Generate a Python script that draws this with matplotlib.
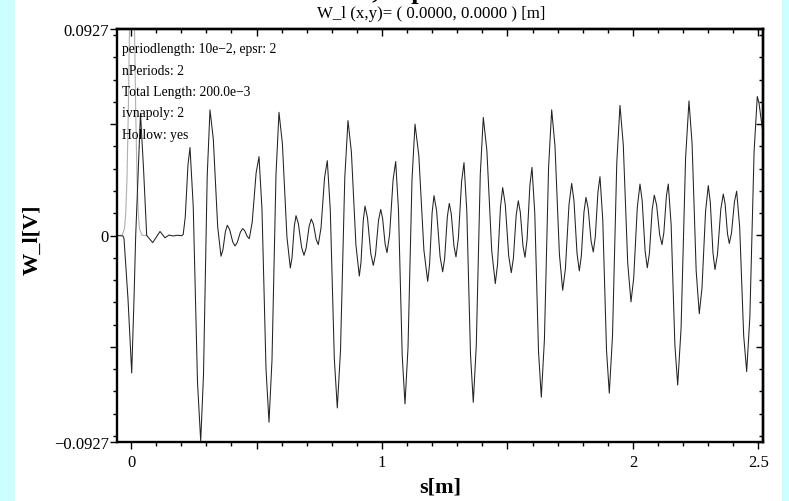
import matplotlib
matplotlib.use("Agg")
import matplotlib.pyplot as plt
import numpy as np
from matplotlib.ticker import MultipleLocator, FixedLocator

#============================================= date ================================================================
# curba principala W_l(s): extreme + cate doua puncte de forma intre ele (citite/estimate)
s_wake = [-0.0558, -0.0319, -0.0279, -0.0120, 0.0028, 0.0120, 0.0187, 0.0378, 0.0498, 0.0625,
          0.0865, 0.1155, 0.1355, 0.1514, 0.1673, 0.1833, 0.2020, 0.2080, 0.2161, 0.2270,
          0.2351, 0.2479, 0.2649, 0.2777, 0.2888, 0.3036, 0.3147, 0.3279, 0.3454,
          0.3586, 0.3661, 0.3762, 0.3837, 0.3929, 0.4051, 0.4143, 0.4235, 0.4358,
          0.4450, 0.4529, 0.4634, 0.4713, 0.4829, 0.4984, 0.5100, 0.5219, 0.5379,
          0.5498, 0.5617, 0.5777, 0.5896, 0.6031, 0.6212, 0.6347, 0.6415, 0.6506,
          0.6574, 0.6669, 0.6797, 0.6892, 0.6979, 0.7096, 0.7183, 0.7267, 0.7378,
          0.7462, 0.7570, 0.7713, 0.7821, 0.7940, 0.8100, 0.8219, 0.8347, 0.8517,
          0.8645, 0.8780, 0.8961, 0.9096, 0.9164, 0.9255, 0.9323, 0.9422, 0.9554,
          0.9653, 0.9742, 0.9860, 0.9948, 1.0023, 1.0124, 1.0199, 1.0303, 1.0442,
          1.0546, 1.0657, 1.0805, 1.0916, 1.1036, 1.1195, 1.1315, 1.1467, 1.1669,
          1.1821, 1.1896, 1.1997, 1.2072, 1.2176, 1.2314, 1.2418, 1.2497, 1.2602,
          1.2681, 1.2761, 1.2868, 1.2948, 1.3044, 1.3171, 1.3267, 1.3378, 1.3526,
          1.3637, 1.3757, 1.3916, 1.4036, 1.4179, 1.4371, 1.4514, 1.4603, 1.4721,
          1.4809, 1.4912, 1.5048, 1.5151, 1.5235, 1.5346, 1.5430, 1.5510, 1.5617,
          1.5697, 1.5781, 1.5892, 1.5976, 1.6087, 1.6236, 1.6347, 1.6471, 1.6637,
          1.6761, 1.6892, 1.7068, 1.7199, 1.7307, 1.7450, 1.7558, 1.7649, 1.7770,
          1.7861, 1.7941, 1.8047, 1.8127, 1.8214, 1.8331, 1.8418, 1.8498, 1.8605,
          1.8685, 1.8796, 1.8945, 1.9056, 1.9184, 1.9354, 1.9482, 1.9613, 1.9789,
          1.9920, 2.0028, 2.0171, 2.0279, 2.0366, 2.0483, 2.0570, 2.0654, 2.0765,
          2.0849, 2.0941, 2.1063, 2.1155, 2.1230, 2.1331, 2.1406, 2.1519, 2.1669,
          2.1781, 2.1916, 2.2096, 2.2231, 2.2354, 2.2518, 2.2641, 2.2749, 2.2892,
          2.3000, 2.3080, 2.3187, 2.3267, 2.3366, 2.3499, 2.3598, 2.3670, 2.3765,
          2.3837, 2.3925, 2.4043, 2.4131, 2.4251, 2.4410, 2.4530, 2.4657, 2.4825,
          2.4952, 2.5020, 2.5179]
w_wake = [0.0, -0.0002, -0.0014, -0.0284, -0.0617, -0.0284, 0.0, 0.0549, 0.0302, 0.0,
          -0.0032, 0.0018, -0.0010, 0.0002, -0.0002, 0.0001, -0.0001, 0.0005, 0.0083, 0.0317,
          0.0395, 0.0131, -0.0659, -0.0923, -0.0626, 0.0267, 0.0564, 0.0433, 0.0038,
          -0.0093, -0.0065, 0.0018, 0.0046, 0.0027, -0.0028, -0.0047, -0.0031, 0.0015,
          0.0031, 0.0022, -0.0005, -0.0014, 0.0060, 0.0280, 0.0354, 0.0116, -0.0600,
          -0.0838, -0.0560, 0.0275, 0.0553, 0.0413, -0.0006, -0.0146, -0.0099, 0.0042,
          0.0089, 0.0053, -0.0053, -0.0089, -0.0056, 0.0041, 0.0074, 0.0051, -0.0018,
          -0.0041, 0.0034, 0.0261, 0.0336, 0.0114, -0.0552, -0.0774, -0.0516, 0.0258,
          0.0516, 0.0376, -0.0042, -0.0182, -0.0119, 0.0069, 0.0132, 0.0079, -0.0081,
          -0.0134, -0.0084, 0.0067, 0.0117, 0.0078, -0.0038, -0.0077, 0.0005, 0.0250,
          0.0332, 0.0114, -0.0538, -0.0756, -0.0505, 0.0249, 0.0500, 0.0359, -0.0065,
          -0.0206, -0.0129, 0.0102, 0.0179, 0.0111, -0.0095, -0.0163, -0.0102, 0.0083,
          0.0144, 0.0096, -0.0048, -0.0096, -0.0011, 0.0242, 0.0327, 0.0112, -0.0534,
          -0.0749, -0.0493, 0.0274, 0.0530, 0.0381, -0.0067, -0.0216, -0.0130, 0.0129,
          0.0215, 0.0139, -0.0091, -0.0167, -0.0102, 0.0091, 0.0156, 0.0105, -0.0047,
          -0.0098, -0.0017, 0.0225, 0.0306, 0.0100, -0.0520, -0.0726, -0.0468, 0.0306,
          0.0564, 0.0402, -0.0084, -0.0246, -0.0150, 0.0138, 0.0234, 0.0155, -0.0080,
          -0.0159, -0.0093, 0.0105, 0.0171, 0.0122, -0.0025, -0.0074, -0.0006, 0.0196,
          0.0264, 0.0070, -0.0514, -0.0708, -0.0450, 0.0326, 0.0584, 0.0408, -0.0122,
          -0.0298, -0.0192, 0.0125, 0.0231, 0.0156, -0.0070, -0.0145, -0.0080, 0.0116,
          0.0181, 0.0137, 0.0003, -0.0041, 0.0013, 0.0177, 0.0231, 0.0051, -0.0491,
          -0.0671, -0.0416, 0.0349, 0.0604, 0.0413, -0.0160, -0.0351, -0.0236, 0.0109,
          0.0224, 0.0149, -0.0078, -0.0153, -0.0085, 0.0118, 0.0186, 0.0142, 0.0008,
          -0.0036, 0.0011, 0.0152, 0.0199, 0.0037, -0.0449, -0.0611, -0.0364, 0.0377,
          0.0624, 0.0595, 0.0459]

# curba gri deschis (profilul pachetului), iese din grafic sus
s_bunch = [-0.0558, -0.036, -0.026, -0.021, -0.016, -0.011, -0.006, -0.001, 0.004,
           0.009, 0.014, 0.019, 0.024, 0.029, 0.034, 0.044, 0.0625]
w_bunch = [0.0, 0.0001, 0.0030, 0.0097, 0.0256, 0.0541, 0.0925, 0.1276, 0.1420,
           0.1276, 0.0925, 0.0541, 0.0256, 0.0097, 0.0030, 0.0001, 0.0]

info_lines = ["periodlength: 10e\u22122, epsr: 2", "nPeriods: 2", "Total Length: 200.0e\u22123",
              "ivnapoly: 2", "Hollow: yes"]

y_lim = 0.0927
x_ticks = [0, 0.5, 1, 1.5, 2, 2.5]
x_labels = ["0", "", "1", "", "2", "2.5"]
y_ticks = [-0.0927, -0.05, 0, 0.05, 0.0927]
y_labels = ["\u22120.0927", "", "0", "", "0.0927"]

#============================================= desen ==============================================
plt.rcParams['font.family'] = ['Liberation Serif', 'DejaVu Serif']

fig = plt.figure(figsize=(7.89, 5.02), dpi=100, facecolor='#ccffff')
# panoul alb din spate
fig.patches.append(plt.Rectangle((15 / 789, 0), (782 - 15) / 789, 1, transform=fig.transFigure,
                                 facecolor='white', edgecolor='none', zorder=-5))

ax = fig.add_axes([117 / 789, 1 - 443 / 502, (763 - 117) / 789, (443 - 30) / 502])
ax.set_zorder(2)
ax.set_facecolor('white')

ax.plot(s_bunch, w_bunch, color='#b0b0b0', linewidth=0.8)
ax.plot(s_wake, w_wake, color='#222222', linewidth=0.75)

ax.set_xlim(-0.0558, 2.518)
ax.set_ylim(-y_lim, y_lim)

ax.xaxis.set_major_locator(FixedLocator(x_ticks))
ax.set_xticklabels(x_labels)
ax.xaxis.set_minor_locator(MultipleLocator(0.1))
ax.yaxis.set_major_locator(FixedLocator(y_ticks))
ax.set_yticklabels(y_labels)
ax.yaxis.set_minor_locator(MultipleLocator(0.01))

for sp in ax.spines.values():
    sp.set_linewidth(1.7)

ax.tick_params(axis='both', which='both', direction='out', top=False, right=False, labelsize=12, width=1.0)
ax.tick_params(axis='both', which='major', length=5, pad=4)
ax.tick_params(axis='both', which='minor', length=3)
ax.tick_params(axis='y', which='major', pad=1)
# sus si dreapta: liniute spre interior
ax2 = ax.secondary_xaxis('top')
ax2.xaxis.set_major_locator(FixedLocator(x_ticks))
ax2.xaxis.set_minor_locator(MultipleLocator(0.1))
ax2.tick_params(which='both', direction='in', labeltop=False, width=1.0)
ax2.tick_params(which='major', length=5)
ax2.tick_params(which='minor', length=3)
ax2.spines['top'].set_linewidth(1.7)
ay2 = ax.secondary_yaxis('right')
ay2.yaxis.set_major_locator(FixedLocator(y_ticks))
ay2.yaxis.set_minor_locator(MultipleLocator(0.01))
ay2.tick_params(which='both', direction='in', labelright=False, width=1.0)
ay2.tick_params(which='major', length=5)
ay2.tick_params(which='minor', length=3)
ay2.spines['right'].set_linewidth(1.7)

ax.set_xlabel('s[m]', fontsize=16, fontweight='bold', labelpad=4)
fig.text(33 / 789, 1 - 240 / 502, 'W_l[V]', rotation=90, fontsize=16, fontweight='bold',
         ha='center', va='center')

# textul cu parametrii
for i, line in enumerate(info_lines):
    ax.text(122 / 789, 1 - (50 + 21.3 * i) / 502, line, transform=fig.transFigure,
            fontsize=9.8, ha='left', va='center')

# titlurile de sus (cel mare e taiat de marginea imaginii, se vad doar codițele)
fig.text(431 / 789, 1 - 14 / 502, 'W_l (x,y)= ( 0.0000, 0.0000 ) [m]', fontsize=12.2,
         ha='center', va='center')
fig.text(200 / 789, 1 + 0.5 / 502, 'Wake Potential, Wp', fontsize=19, fontweight='bold',
         ha='left', va='baseline')

plt.savefig('out.png', dpi=100, facecolor=fig.get_facecolor())
